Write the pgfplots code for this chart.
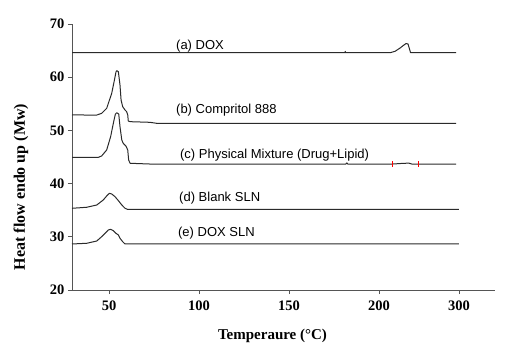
\documentclass[border=0pt]{standalone}
\usepackage{fontspec}
\setmainfont{Liberation Serif}
\newfontfamily\arial{Liberation Sans}
\usepackage{pgfplots}
\pgfplotsset{compat=1.18}
\definecolor{curve}{HTML}{2A2A2A}
\definecolor{axc}{HTML}{555555}
\tikzset{dsc/.style={draw=curve, solid, line width=1bp, line join=round, mark=none}}
\begin{document}
\begin{tikzpicture}
\path[use as bounding box] (0,0) rectangle (512bp,356bp);
\begin{axis}[
  at={(72bp,66bp)}, anchor=south west,
  scale only axis, width=423bp, height=266bp,
  xmin=29.44, xmax=264.4, ymin=20, ymax=70,
  axis x line=bottom, axis y line=left,
  axis line style={-, draw=axc, line width=0.9bp},
  tick style={draw=axc, line width=0.9bp},
  major tick length=4bp,
  xtick align=outside, ytick align=outside,
  xtick={50,100,150,200,244.4}, xticklabels={\textbf{50},\textbf{100},\textbf{150},\textbf{200},\textbf{300}},
  ytick={20,30,40,50,60,70}, yticklabels={\textbf{20},\textbf{30},\textbf{40},\textbf{50},\textbf{60},\textbf{70}},
  tick label style={font=\bfseries\fontsize{14.5bp}{16bp}\selectfont},
  xticklabel style={yshift=-3bp},
  xlabel={Temperaure (\textdegree C)},
  ylabel={Heat flow endo up (Mw)},
  xlabel style={at={(axis description cs:0.474,-0.173)}, anchor=center, font=\bfseries\fontsize{15bp}{17bp}\selectfont},
  ylabel style={at={(axis description cs:-0.1206,0.387)}, anchor=center, font=\bfseries\fontsize{16bp}{18bp}\selectfont},
  clip=false,
]
% (a) DOX
\addplot[dsc] coordinates {(29.44,64.6) (181.0,64.6) (181.2,64.85) (181.4,64.6) (206.1,64.6) (208.9,64.87) (211.7,65.49) (213.3,65.92) (215.0,66.33) (216.1,66.24) (216.9,65.3) (217.5,64.6) (242.8,64.6)};
% (b) Compritol 888
\addplot[dsc] coordinates {(29.44,52.9) (43.2,52.89) (45.9,53.2) (48.7,54.15) (51.5,56.97) (53.0,59.47) (53.9,61.03) (54.3,61.23) (55.2,61.03) (56.1,58.53) (56.7,55.71) (57.6,54.46) (58.9,53.83) (59.8,53.52) (60.4,52.89) (60.7,51.77) (61.7,51.64) (72.8,51.52) (76.5,51.33) (242.8,51.33)};
% (c) Physical mixture
\addplot[dsc] coordinates {(29.44,44.94) (44.1,44.94) (45.9,45.19) (48.7,46.32) (50.9,48.82) (52.4,51.33) (53.5,53.03) (54.3,53.33) (55.4,53.08) (56.1,50.7) (57.1,48.2) (57.9,47.57) (59.4,47.07) (60.4,46.32) (60.9,44.44) (61.7,43.82) (72.8,43.68) (181.6,43.68) (182.1,43.9) (182.6,43.68) (207.6,43.68) (212,43.78) (216.5,43.85) (218.5,43.65) (221.8,43.68) (242.8,43.68)};
% red marks on (c)
\addplot[draw=red, solid, line width=0.8bp, mark=none] coordinates {(207.6,43.18) (207.6,44.25)};
\addplot[draw=red, solid, line width=0.8bp, mark=none] coordinates {(221.8,43.18) (221.8,44.25)};
% (d) Blank SLN
\addplot[dsc] coordinates {(29.44,35.36) (37.6,35.55) (43.2,35.98) (46.8,36.92) (48.7,37.67) (50.2,38.17) (51.5,38.05) (53.3,37.55) (55.2,36.8) (57.1,35.98) (58.9,35.36) (60.2,35.17) (72.8,35.17) (244.3,35.17)};
% (e) DOX SLN
\addplot[dsc] coordinates {(29.44,28.65) (37.6,28.78) (43.2,29.21) (45.9,30.02) (47.8,30.65) (49.6,31.28) (50.9,31.41) (52.4,31.15) (53.9,30.65) (55.2,30.34) (56.1,29.72) (57.6,29.08) (58.9,28.65) (72.8,28.65) (244.3,28.65)};
\begin{scope}[every node/.style={anchor=base west, inner sep=0pt, font=\arial\fontsize{13bp}{15bp}\selectfont}]
\node at (axis cs:87.2,65.3) {(a) DOX};
\node at (axis cs:87.2,53.2) {(b) Compritol 888};
\node at (axis cs:89.4,44.8) {(c) Physical Mixture (Drug+Lipid)};
\node at (axis cs:88.9,36.7) {(d) Blank SLN};
\node at (axis cs:88.3,30.05) {(e) DOX SLN};
\end{scope}
\end{axis}
\end{tikzpicture}
\end{document}
